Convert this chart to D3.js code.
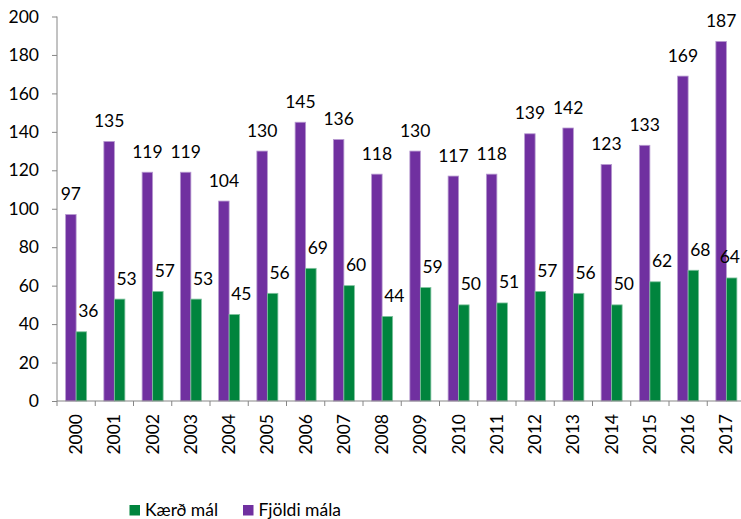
<!DOCTYPE html>
<html>
<head>
<meta charset="utf-8">
<script src="https://cdn.jsdelivr.net/npm/d3@7"></script>
<style>
  html, body { margin: 0; padding: 0; background: #fff; }
  svg { display: block; font-family: Lato, "Open Sans", sans-serif; }
</style>
</head>
<body>
<svg id="chart" width="741" height="519"></svg>
<script>
const years = ["2000","2001","2002","2003","2004","2005","2006","2007","2008","2009","2010","2011","2012","2013","2014","2015","2016","2017"];
const fjoldiMala = [97,135,119,119,104,130,145,136,118,130,117,118,139,142,123,133,169,187];
const kaerdMal = [36,53,57,53,45,56,69,60,44,59,50,51,57,56,50,62,68,64];
const yTicks = [0,20,40,60,80,100,120,140,160,180,200];
const seriesNames = ["Fjöldi mála","Kærð mál"];
const legendOrder = ["Kærð mál","Fjöldi mála"];
const colors = {"Fjöldi mála": "#7030A0", "Kærð mál": "#00843D"};
const strokes = {"Fjöldi mála": "#b79ad0", "Kærð mál": "#7fc29e"};

const svg = d3.select("#chart");
const mLeft = 57, mRight = 745.5, mTop = 16.5, mBottom = 401;
const fontSize = 17.5;
const W = 741;

const x = d3.scaleBand().domain(years).range([mLeft, mRight]).paddingInner(0).paddingOuter(0);
const xs = d3.scaleBand().domain(seriesNames).range([0, x.bandwidth()]).paddingInner(0).paddingOuter(0.82);
const y = d3.scaleLinear().domain([0, 200]).range([mBottom, mTop]);

const rows = years.map((yr, i) => ({year: yr, values: {"Fjöldi mála": fjoldiMala[i], "Kærð mál": kaerdMal[i]}}));

// Bars
const g = svg.append("g");
rows.forEach(r => {
  seriesNames.forEach(s => {
    g.append("rect")
      .attr("x", x(r.year) + xs(s))
      .attr("y", y(r.values[s]))
      .attr("width", xs.bandwidth())
      .attr("height", y(0) - y(r.values[s]))
      .attr("fill", colors[s])
      .attr("stroke", strokes[s])
      .attr("stroke-width", 0.8);
  });
});

// Data labels
rows.forEach(r => {
  seriesNames.forEach(s => {
    const dx = s === "Kærð mál" ? 7 : 0;
    const t = g.append("text")
      .attr("x", x(r.year) + xs(s) + xs.bandwidth() / 2 + dx)
      .attr("y", y(r.values[s]) - 14.5)
      .attr("text-anchor", "middle")
      .attr("font-size", fontSize)
      .attr("fill", "#000")
      .text(r.values[s]);
    const bb = t.node().getBBox();
    if (bb.x + bb.width > W - 1) {
      t.attr("x", +t.attr("x") - (bb.x + bb.width - (W - 1)));
    }
  });
});

// Y axis
const yAxis = d3.axisLeft(y).tickValues(yTicks).tickSize(5).tickPadding(13);
const yg = svg.append("g").attr("transform", `translate(${mLeft},0)`).call(yAxis);
yg.select(".domain").attr("stroke", "#868686").attr("d", `M0,${mTop}V${mBottom}`);
yg.selectAll(".tick line").attr("stroke", "#868686");
yg.selectAll(".tick text").attr("font-size", fontSize).attr("font-family", "Lato, 'Open Sans', sans-serif").attr("fill", "#000");

// X axis
const xg = svg.append("g").attr("transform", `translate(0,${mBottom})`);
xg.append("line").attr("x1", mLeft).attr("x2", mRight).attr("y1", 0).attr("y2", 0).attr("stroke", "#868686");
years.forEach(yr => {
  xg.append("line").attr("x1", x(yr)).attr("x2", x(yr)).attr("y1", 0).attr("y2", 5).attr("stroke", "#868686");
});
xg.append("line").attr("x1", mRight).attr("x2", mRight).attr("y1", 0).attr("y2", 5).attr("stroke", "#868686");
years.forEach(yr => {
  const cx = x(yr) + x.bandwidth() / 2;
  xg.append("text")
    .attr("transform", `translate(${cx + 6},13) rotate(-90)`)
    .attr("text-anchor", "end")
    .attr("font-size", fontSize)
    .attr("fill", "#000")
    .text(yr);
});

// Legend
const lg = svg.append("g");
const legendX = [129.5, 243];
legendOrder.forEach((s, i) => {
  lg.append("rect").attr("x", legendX[i]).attr("y", 505).attr("width", 10.5).attr("height", 10.5).attr("fill", colors[s]);
  lg.append("text").attr("x", legendX[i] + 15.5).attr("y", 515.5).attr("font-size", fontSize).attr("fill", "#000").text(s);
});
</script>
</body>
</html>
